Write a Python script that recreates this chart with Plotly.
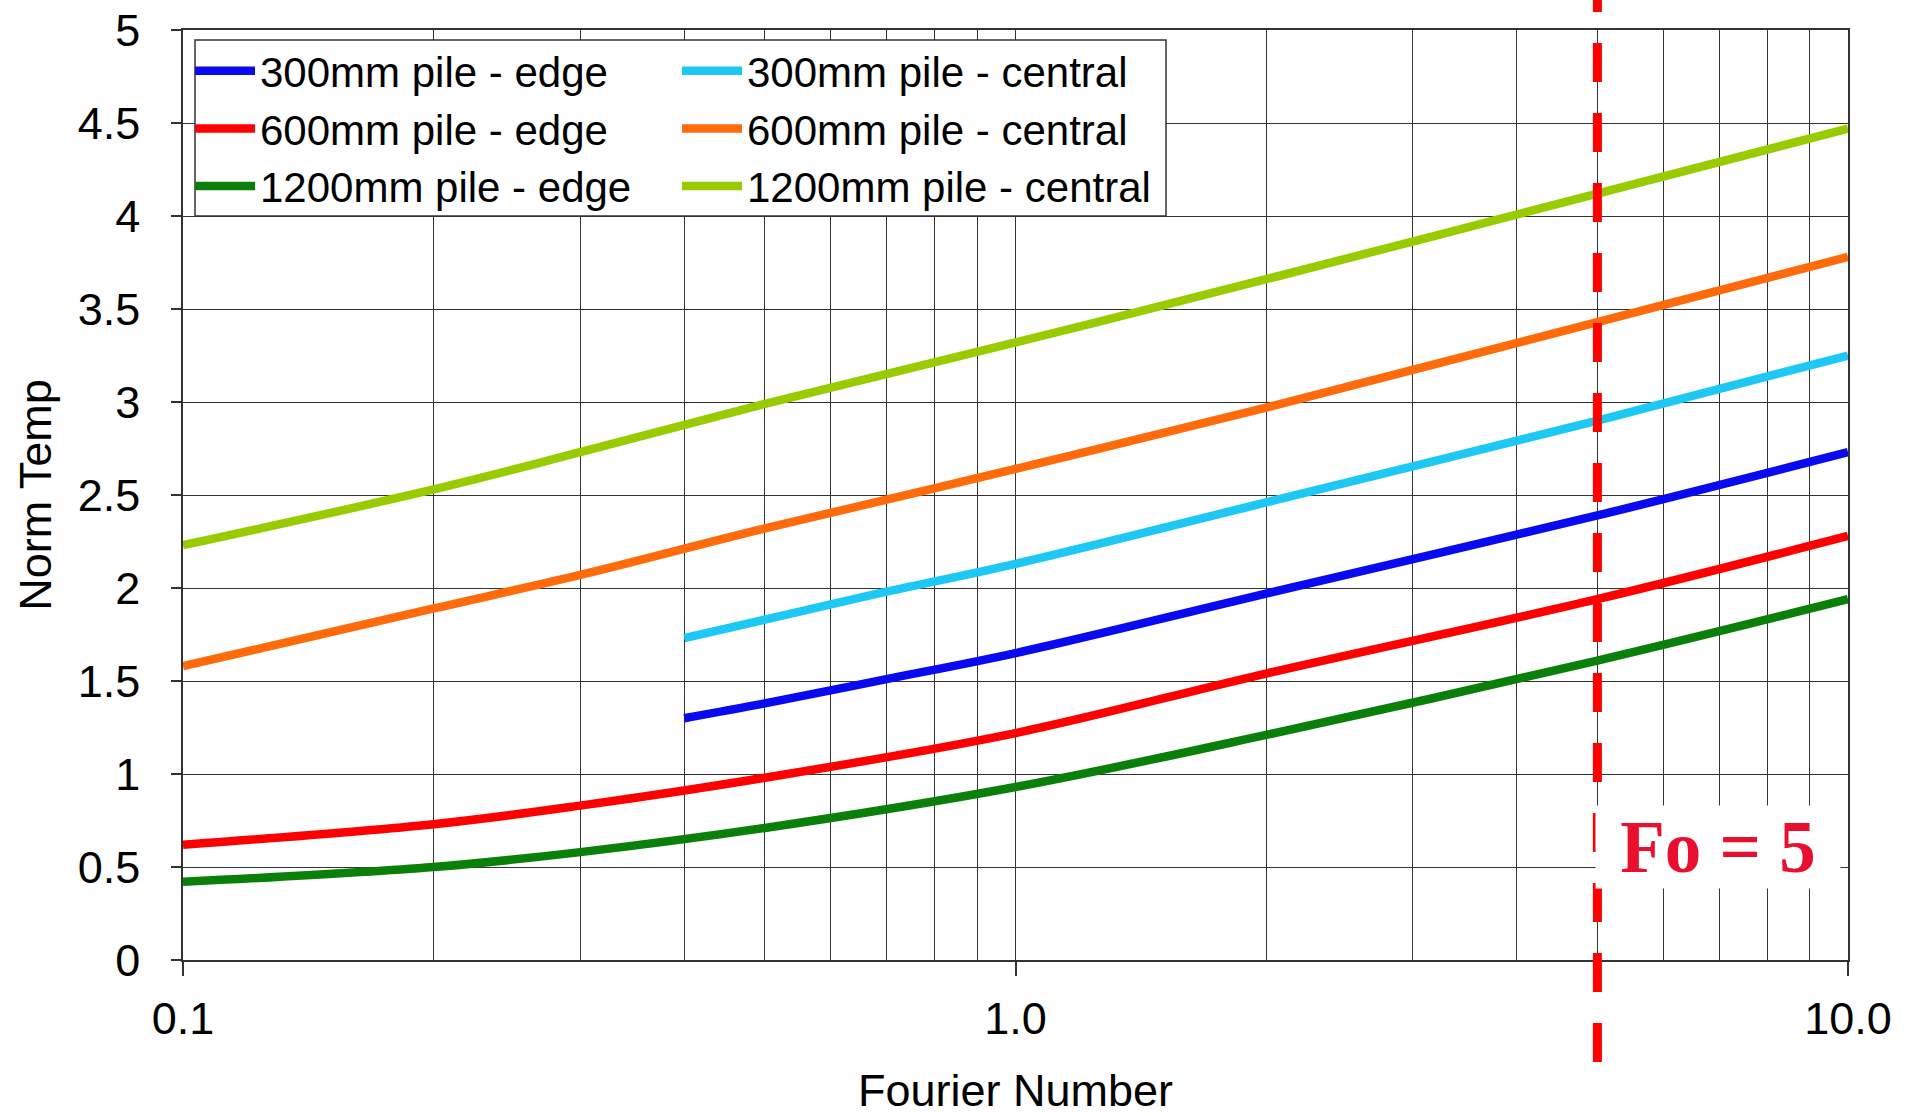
import plotly.graph_objects as go

# ---- data ----
fo_full = [0.1, 0.2, 0.3, 0.5, 1.0, 2, 5, 10]
fo_short = [0.4, 0.5, 0.7, 1.0, 2, 5, 10]

edge_300 = [1.30, 1.38, 1.51, 1.65, 1.97, 2.39, 2.73]
central_300 = [1.73, 1.83, 1.98, 2.13, 2.46, 2.90, 3.25]
edge_600 = [0.62, 0.73, 0.83, 0.98, 1.22, 1.54, 1.94, 2.28]
central_600 = [1.58, 1.89, 2.07, 2.32, 2.64, 2.97, 3.43, 3.78]
edge_1200 = [0.42, 0.50, 0.58, 0.71, 0.93, 1.21, 1.61, 1.94]
central_1200 = [2.23, 2.53, 2.73, 2.99, 3.32, 3.66, 4.12, 4.47]

fo_marker = 5
x_major = [0.1, 1, 10]
x_major_text = ["0.1", "1.0", "10.0"]
x_minor = [0.2, 0.3, 0.4, 0.5, 0.6, 0.7, 0.8, 0.9, 2, 3, 4, 5, 6, 7, 8, 9]
y_ticks = [0, 0.5, 1, 1.5, 2, 2.5, 3, 3.5, 4, 4.5, 5]
y_ticktext = ["0", "0.5", "1", "1.5", "2", "2.5", "3", "3.5", "4", "4.5", "5"]

FONT = "Liberation Sans, Arial, sans-serif"
GRID = "#333333"

series = [
    ("300mm pile - edge", fo_short, edge_300, "#0A0AF0", "legend"),
    ("600mm pile - edge", fo_full, edge_600, "#FF0000", "legend"),
    ("1200mm pile - edge", fo_full, edge_1200, "#0A800A", "legend"),
    ("300mm pile - central", fo_short, central_300, "#1EC8F5", "legend2"),
    ("600mm pile - central", fo_full, central_600, "#FF6A0A", "legend2"),
    ("1200mm pile - central", fo_full, central_1200, "#99CC00", "legend2"),
]

fig = go.Figure()
for name, xs, ys, col, lg in series:
    fig.add_trace(go.Scatter(
        x=xs, y=ys, mode="lines", name=name, legend=lg,
        line=dict(color=col, width=8.5, shape="spline", smoothing=1.0),
    ))

# plot geometry (pixels)
L, R, T, B = 183, 66, 30, 156
W, H = 1914, 1116
pw, ph = W - L - R, H - T - B

def px_x(p):
    return (p - L) / pw

def px_y(p):
    return (H - B - p) / ph

# legend frame
fig.add_shape(type="rect", xref="paper", yref="paper",
              x0=px_x(195), x1=px_x(1166), y0=px_y(216), y1=px_y(40),
              line=dict(color=GRID, width=1.5), fillcolor="white", layer="above")

# Fo = 5 dashed line
fig.add_shape(type="line", xref="x", yref="paper",
              x0=fo_marker, x1=fo_marker, y0=px_y(1062), y1=px_y(0),
              line=dict(color="#FF0000", width=9, dash="39px,31px"), layer="above")

fig.add_annotation(x=px_x(1718), y=px_y(847), xref="paper", yref="paper",
                   text="<b>Fo = 5</b>", showarrow=False,
                   font=dict(family="Liberation Serif, Times New Roman, serif", size=73, color="#E8102E"),
                   bgcolor="white", width=236, height=74, borderpad=4,
                   xanchor="center", yanchor="middle")

legend_common = dict(
    font=dict(family=FONT, size=42, color="black"),
    bgcolor="rgba(0,0,0,0)", borderwidth=0,
    xanchor="left", yanchor="top", orientation="v",
    itemwidth=60, tracegroupgap=0,
)

fig.update_layout(
    width=W, height=H,
    margin=dict(l=L, r=R, t=T, b=B, autoexpand=False),
    paper_bgcolor="white", plot_bgcolor="white",
    font=dict(family=FONT, color="black"),
    showlegend=True,
    legend=dict(x=px_x(190), y=px_y(37), **legend_common),
    legend2=dict(x=px_x(677), y=px_y(37), **legend_common),
    xaxis=dict(
        type="log", range=[-1, 1],
        tickmode="array", tickvals=x_major, ticktext=x_major_text,
        ticks="outside", ticklen=14, tickwidth=1.5, tickcolor=GRID,
        tickfont=dict(size=45, family=FONT),
        showgrid=True, gridcolor=GRID, gridwidth=1.3,
        minor=dict(tickmode="array", tickvals=x_minor, showgrid=True,
                   gridcolor=GRID, gridwidth=1.3, ticks=""),
        showline=True, linecolor=GRID, linewidth=1.5, mirror=True,
        zeroline=False, ticklabelstandoff=4,
        title=dict(text="Fourier Number", font=dict(size=45, family=FONT), standoff=39),
        automargin=False,
    ),
    yaxis=dict(
        range=[0, 5], tickmode="array", tickvals=y_ticks, ticktext=y_ticktext,
        ticks="outside", ticklen=10, tickwidth=1.5, tickcolor=GRID,
        tickfont=dict(size=45, family=FONT),
        showgrid=True, gridcolor=GRID, gridwidth=1.3,
        showline=True, linecolor=GRID, linewidth=1.5, mirror=True,
        zeroline=False, ticklabelstandoff=22,
        title=dict(text="Norm Temp", font=dict(size=45, family=FONT), standoff=12),
        automargin=False,
    ),
)

fig.write_html("out.html")
